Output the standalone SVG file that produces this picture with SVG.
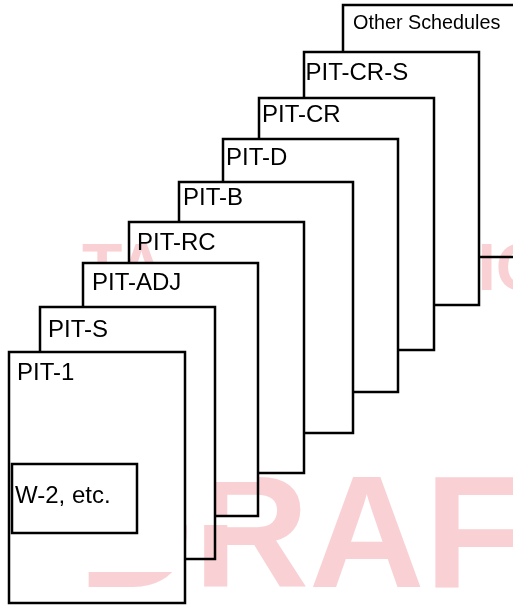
<svg xmlns="http://www.w3.org/2000/svg" width="513" height="605" viewBox="0 0 513 605">
  <style>
    .page { fill: #ffffff; stroke: #000000; stroke-width: 2.5; }
    .lbl { font-family: "Liberation Sans", Arial, sans-serif; font-size: 24px; fill: #000000; }
    .small { font-size: 19.8px; }
    .wm { font-family: "Liberation Sans", Arial, sans-serif; font-weight: bold; fill: #F9D1D4; mix-blend-mode: multiply; }
  </style>
  <defs>
    <clipPath id="clipTA"><rect x="0" y="0" width="513" height="262"/></clipPath>
    <clipPath id="clipIO"><rect x="480.5" y="0" width="40" height="605"/></clipPath>
    <clipPath id="clipDraft">
      <rect x="0" y="572" width="185" height="40"/>
      <rect x="185" y="525" width="335" height="80"/>
      <rect x="215" y="482" width="305" height="33"/>
      <rect x="258" y="460" width="262" height="145"/>
    </clipPath>
  </defs>

  <g id="node-other-schedules">
    <rect class="page" x="343" y="5" width="180" height="252"/>
    <text class="lbl small" x="353" y="28.5">Other Schedules</text>
  </g>
  <g id="node-pit-cr-s">
    <rect class="page" x="304" y="52" width="175" height="253"/>
    <text class="lbl" x="305.5" y="80">PIT-CR-S</text>
  </g>
  <g id="node-pit-cr">
    <rect class="page" x="259" y="98" width="175" height="252"/>
    <text class="lbl" x="262" y="122">PIT-CR</text>
  </g>
  <g id="node-pit-d">
    <rect class="page" x="223" y="139" width="175" height="253"/>
    <text class="lbl" x="226" y="165">PIT-D</text>
  </g>
  <g id="node-pit-b">
    <rect class="page" x="179" y="182" width="174" height="251"/>
    <text class="lbl" x="183" y="205">PIT-B</text>
  </g>
  <g id="node-pit-rc">
    <rect class="page" x="129" y="222" width="175" height="251"/>
    <text class="lbl" x="137" y="250">PIT-RC</text>
  </g>
  <g id="node-pit-adj">
    <rect class="page" x="83" y="263" width="175" height="253"/>
    <text class="lbl" x="92" y="290">PIT-ADJ</text>
  </g>
  <g id="node-pit-s">
    <rect class="page" x="40" y="307" width="175" height="252"/>
    <text class="lbl" x="48" y="337">PIT-S</text>
  </g>
  <g id="node-pit-1">
    <rect class="page" x="9" y="352" width="176" height="251"/>
    <text class="lbl" x="17" y="380">PIT-1</text>
  </g>
  <g id="node-w2">
    <rect class="page" x="12" y="464" width="125" height="69"/>
    <text class="lbl" x="15" y="503">W-2, etc.</text>
  </g>

  <g id="connectors"/>

  <g id="watermark">
    <text class="wm" x="82" y="290" font-size="66" clip-path="url(#clipTA)">TA</text>
    <text class="wm" x="477.5" y="290" font-size="66" clip-path="url(#clipIO)">IO</text>
    <text class="wm" x="78" y="587" font-size="160" clip-path="url(#clipDraft)">DRAFT</text>
  </g>
</svg>
